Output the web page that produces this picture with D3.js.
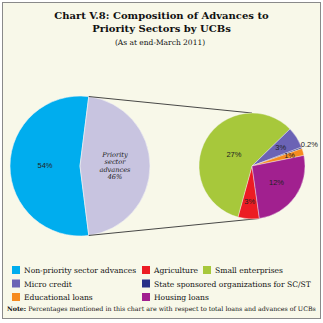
<!DOCTYPE html>
<html lang="en">
<head>
  <meta charset="UTF-8">
  <title>Chart V.8</title>
  <script src="https://d3js.org/d3.v7.min.js"></script>
  <style>
    body { margin: 0; background: #fff; }
    svg { display: block; }
    .title { font-family: "DejaVu Serif", serif; font-weight: bold; fill: #111; text-anchor: middle; }
    .sub { font-family: "DejaVu Serif", serif; fill: #111; text-anchor: middle; }
    .pct { font-family: "Liberation Sans", Arial, sans-serif; font-size: 7.5px; fill: #222; text-anchor: middle; dominant-baseline: middle; }
    .leg { font-family: "DejaVu Serif", serif; font-size: 7.6px; fill: #111; }
    .note { font-family: "DejaVu Serif", serif; font-size: 6.3px; fill: #111; }
  </style>
</head>
<body>
  <svg id="chart" width="323" height="323"></svg>
  <script>
    // outer pie
    const mainLabels = ["Non-priority sector advances", "Priority sector advances"];
    const mainValues = [54, 46];

    // breakdown of priority sector advances
    const prioLabels = ["Agriculture", "Small enterprises", "Micro credit",
      "State sponsored organizations for SC/ST", "Educational loans", "Housing loans"];
    const prioValues = [3, 27, 3, 0.2, 1, 12];
    const prioText = ["3%", "27%", "3%", "0.2%", "1%", "12%"];

    const mainColors = ["#00adee", "#c8c4e0"];
    const prioColors = ["#ec1c24", "#a7c83b", "#6b63b5", "#283088", "#f68b1f", "#a1208f"];

    // legend order as in the picture
    const legendRows = [
      [[mainLabels[0], mainColors[0]], [prioLabels[0], prioColors[0]], [prioLabels[1], prioColors[1]]],
      [[prioLabels[2], prioColors[2]], [prioLabels[3], prioColors[3]]],
      [[prioLabels[4], prioColors[4]], [prioLabels[5], prioColors[5]]]
    ];

    const svg = d3.select("#chart");

    svg.append("rect")
      .attr("x", 2.5).attr("y", 2.5)
      .attr("width", 318).attr("height", 316)
      .attr("fill", "#f8f8e9")
      .attr("stroke", "#8a8a8a")
      .attr("stroke-width", 1);

    // titles
    svg.append("text").attr("class", "title").attr("x", 161.5).attr("y", 19)
      .style("font-size", "10px").text("Chart V.8: Composition of Advances to");
    svg.append("text").attr("class", "title").attr("x", 161.5).attr("y", 32)
      .style("font-size", "10px").text("Priority Sectors by UCBs");
    svg.append("text").attr("class", "sub").attr("x", 160).attr("y", 45)
      .style("font-size", "7.5px").text("(As at end-March 2011)");

    // ----- left pie -----
    const cx1 = 80, cy1 = 166, r1 = 70;
    const prioShare = mainValues[1] / d3.sum(mainValues);
    const pie1 = d3.pie().value(d => d).sort(null)
      .startAngle(Math.PI / 2 + prioShare * Math.PI)
      .endAngle(Math.PI / 2 + prioShare * Math.PI + 2 * Math.PI);
    const arc1 = d3.arc().innerRadius(0).outerRadius(r1);
    const lab1 = d3.arc().innerRadius(r1 * 0.5).outerRadius(r1 * 0.5);
    const a1 = pie1(mainValues);

    const g1 = svg.append("g").attr("transform", `translate(${cx1},${cy1})`);
    g1.selectAll("path").data(a1).enter().append("path")
      .attr("d", arc1)
      .attr("fill", (d, i) => mainColors[i])
      .attr("stroke", "#f4f4f4").attr("stroke-width", 0.6);

    const c0 = lab1.centroid(a1[0]);
    g1.append("text").attr("class", "pct").attr("x", c0[0]).attr("y", c0[1]).text(mainValues[0] + "%");

    const c1 = lab1.centroid(a1[1]);
    const pLines = ["Priority", "sector", "advances", mainValues[1] + "%"];
    g1.append("text").attr("class", "pct")
      .attr("x", c1[0]).attr("y", c1[1] - 11.5)
      .style("font-style", "italic").style("font-family", "'DejaVu Serif', serif").style("font-size", "6.6px")
      .selectAll("tspan").data(pLines).enter().append("tspan")
      .attr("x", c1[0]).attr("dy", (d, i) => i === 0 ? 0 : 7.6)
      .text(d => d);

    // ----- right pie -----
    const cx2 = 252, cy2 = 166, r2 = 53;
    const start2 = 172 * Math.PI / 180;
    const pie2 = d3.pie().value(d => d).sort(null)
      .startAngle(start2).endAngle(start2 + 2 * Math.PI);
    const arc2 = d3.arc().innerRadius(0).outerRadius(r2);
    const a2 = pie2(prioValues);
    const labelR = [36, 21, 34, 61, 39, 30];

    // connector lines from the priority slice edges to the right pie
    const pTop = [cx1 + r1 * Math.sin(a1[1].startAngle), cy1 - r1 * Math.cos(a1[1].startAngle)];
    const pBot = [cx1 + r1 * Math.sin(a1[1].endAngle), cy1 - r1 * Math.cos(a1[1].endAngle)];
    svg.append("line").attr("x1", pTop[0]).attr("y1", pTop[1]).attr("x2", cx2).attr("y2", cy2 - r2)
      .attr("stroke", "#333").attr("stroke-width", 0.9);
    svg.append("line").attr("x1", pBot[0]).attr("y1", pBot[1])
      .attr("x2", cx2 + r2 * Math.sin(start2)).attr("y2", cy2 - r2 * Math.cos(start2))
      .attr("stroke", "#333").attr("stroke-width", 0.9);

    const g2 = svg.append("g").attr("transform", `translate(${cx2},${cy2})`);
    g2.selectAll("path").data(a2).enter().append("path")
      .attr("d", arc2)
      .attr("fill", (d, i) => prioColors[i])
      .attr("stroke", "#f4f4f4").attr("stroke-width", 0.4);

    g2.selectAll("text").data(a2).enter().append("text")
      .attr("class", "pct")
      .attr("transform", (d, i) => {
        const c = d3.arc().innerRadius(labelR[i]).outerRadius(labelR[i]).centroid(d);
        return `translate(${c})`;
      })
      .text((d, i) => prioText[i]);

    // ----- legend -----
    const colX = [12, 142, 203];
    const rowY = [266, 279.5, 293];
    legendRows.forEach((row, ri) => {
      row.forEach((item, ci) => {
        const x = colX[ci], y = rowY[ri];
        svg.append("rect").attr("x", x).attr("y", y).attr("width", 8).attr("height", 8)
          .attr("fill", item[1]);
        svg.append("text").attr("class", "leg").attr("x", x + 12).attr("y", y + 7).text(item[0]);
      });
    });

    const note = svg.append("text").attr("class", "note").attr("x", 7).attr("y", 311);
    note.append("tspan").style("font-weight", "bold").text("Note:");
    note.append("tspan").text(" Percentages mentioned in this chart are with respect to total loans and advances of UCBs");
  </script>
</body>
</html>
